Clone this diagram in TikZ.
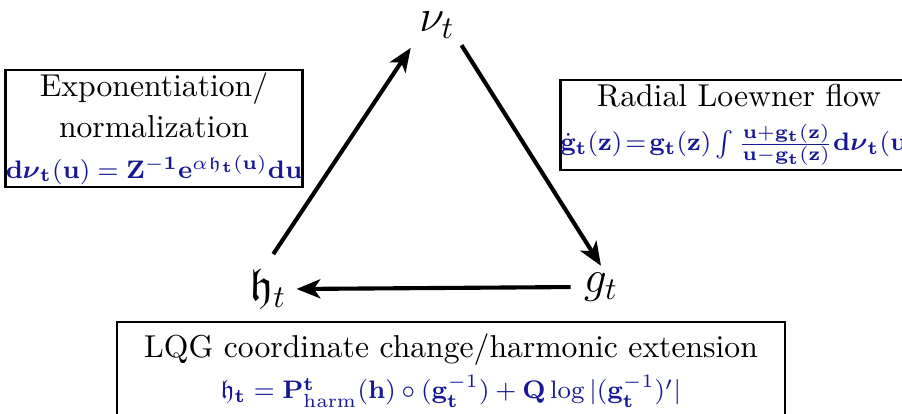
\documentclass[tikz,border=0pt]{standalone}
\usepackage{amsmath,amssymb}
\usetikzlibrary{arrows.meta}

\definecolor{formblue}{RGB}{24,24,150}
\newcommand{\fml}[2][8.1pt]{{\fontsize{#1}{10pt}\selectfont\textcolor{formblue}{$#2$}}}

\tikzset{
  vertex/.style={font=\Large, inner sep=2pt},
  infobox/.style={draw, line width=0.8pt, align=center, inner sep=0pt},
  flow/.style={-{Stealth[length=7.5pt,width=6pt,inset=2pt]}, line width=1.3pt},
}

\begin{document}
\begin{tikzpicture}[x=0.316pt, y=-0.316pt]
    \useasboundingbox (0,0) rectangle (902,413);

    % Triangle of quantities
    \node[vertex] (nu) at (437,25) {$\nu_t$};
    \node[vertex] (g) at (601,287) {$g_t$};
    \node[vertex] (h) at (268,289) {$\mathfrak{h}_t$};

    \draw[flow, shorten <=3pt, shorten >=1pt] (h.north) -- (nu.south west);
    \draw[flow] (nu.south east) -- (g.north);
    \draw[flow, shorten <=2pt, shorten >=1pt] (g.west) -- (h.east);

    % Boxes
    \node[infobox, minimum width=92.3pt, minimum height=37pt] (expbox) at (154,128.5)
        {Exponentiation/\\[1pt] normalization\\[1pt]
         \fml{\mathbf{d}\boldsymbol{\nu}_{\mathbf t}(\mathbf u)=\mathbf Z^{\mathbf{-1}}\mathbf e^{\alpha\mathfrak h_{\mathbf t}(\mathbf u)}\mathbf{du}}};
    \node[infobox, minimum width=108pt, minimum height=28.4pt] (loewbox) at (739,125)
        {Radial Loewner flow\\[2pt]
         \fml{\dot{\mathbf g}_{\mathbf t}(\mathbf z)\!=\!\mathbf g_{\mathbf t}(\mathbf z)\int\frac{\mathbf u+\mathbf g_{\mathbf t}(\mathbf z)}{\mathbf u-\mathbf g_{\mathbf t}(\mathbf z)}\mathbf d\boldsymbol{\nu}_{\mathbf t}(\mathbf u)}};
    \node[infobox, minimum width=211pt, minimum height=31pt] (lqgbox) at (451,371)
        {LQG coordinate change/harmonic extension\\[1pt]
         \fml[8.3pt]{\mathfrak h_{\mathbf t}=\mathbf P^{\mathbf t}_{\mathrm{harm}}(\mathbf h)\circ(\mathbf g_{\mathbf t}^{-1})+\mathbf Q\log|(\mathbf g_{\mathbf t}^{-1})'|}};
\end{tikzpicture}
\end{document}
